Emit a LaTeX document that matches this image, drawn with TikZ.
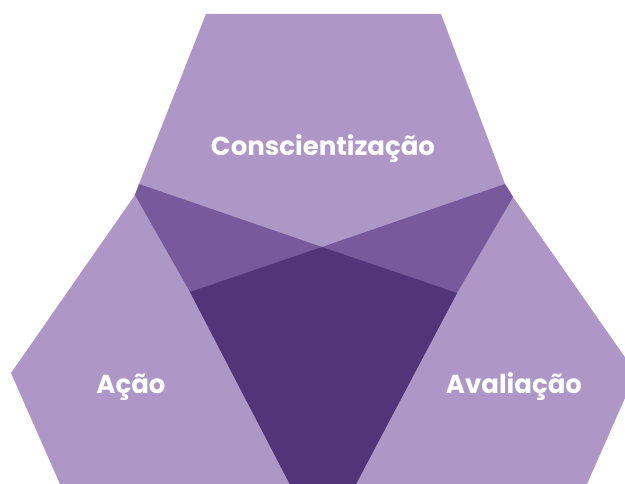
\documentclass[tikz,border=0pt]{standalone}
\usepackage{fontspec}
\setmainfont{Poppins}[Ligatures=NoCommon]
\definecolor{lightp}{HTML}{AE96C6}
\definecolor{midp}{HTML}{785A9C}
\definecolor{darkp}{HTML}{523578}
\tikzset{lbl/.style={text=white,font=\bfseries\fontsize{26}{30}\selectfont,inner sep=0pt,anchor=base}}
\begin{document}
\begin{tikzpicture}[x=1pt,y=-1pt]
\clip (0,0) rectangle (625,484);
\useasboundingbox (0,0) rectangle (625,484);
\fill[lightp] (206,14) -- (441,14) -- (505,184) -- (513,197) -- (636,373) -- (580,500) -- (67,500) -- (11,373) -- (135,195) -- (139,184) -- cycle;
\fill[midp] (139,184) -- (322,247) -- (505,184) -- (513,197) -- (457,293) -- (347.5,500) -- (298,500) -- (190,292) -- (135,195) -- cycle;
\fill[darkp] (190,292) -- (322,247) -- (457,293) -- (347.5,500) -- (298,500) -- cycle;
\node[lbl] (consc) at (323,156) {Conscientização};
\node[lbl] (acao) at (131,393) {Ação};
\node[lbl] (aval) at (514,393) {Avaliação};
\end{tikzpicture}
\end{document}
